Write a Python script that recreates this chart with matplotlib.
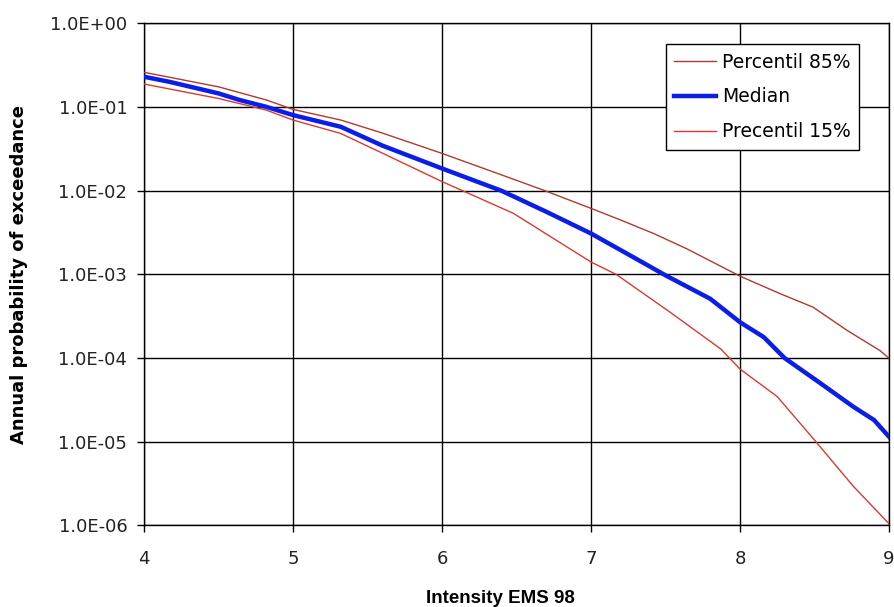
import matplotlib
matplotlib.use("Agg")
import matplotlib.pyplot as plt
from matplotlib.ticker import FuncFormatter, FixedLocator, NullLocator

plt.rcParams['font.family'] = ['DejaVu Sans']

# Intensity (EMS 98) and annual probability of exceedance for each curve
x_p85 = [4.0, 4.5, 4.82, 5.0, 5.32, 5.6, 6.0, 6.37, 6.68, 7.0, 7.2, 7.42,
         7.64, 8.0, 8.27, 8.49, 8.72, 8.94, 9.0]
p85 = [0.261, 0.175, 0.122, 0.0940, 0.0702, 0.0490, 0.0280, 0.0162, 0.0102,
       0.00617, 0.00447, 0.00309, 0.00204, 0.000955, 0.000589, 0.000407,
       0.000214, 0.000123, 0.000100]

x_med = [4.0, 4.17, 4.5, 4.64, 4.82, 5.0, 5.32, 5.6, 6.0, 6.4, 6.7, 7.0,
         7.25, 7.5, 7.8, 8.0, 8.16, 8.3, 8.54, 8.76, 8.9, 9.0]
median = [0.231, 0.201, 0.146, 0.122, 0.101, 0.0804, 0.0583, 0.0347, 0.0185,
          0.0100, 0.00562, 0.00309, 0.00174, 0.000977, 0.000513, 0.000269,
          0.000178, 0.000100, 5.01e-5, 2.63e-5, 1.82e-5, 1.15e-5]

x_p15 = [4.0, 4.5, 4.82, 5.0, 5.32, 5.6, 6.0, 6.14, 6.48, 7.0, 7.17, 7.53,
         7.87, 8.0, 8.25, 8.51, 8.76, 9.0]
p15 = [0.189, 0.127, 0.0923, 0.0702, 0.0485, 0.0282, 0.0129, 0.0100, 0.00537,
       0.00141, 0.00100, 0.000355, 0.000129, 7.41e-5, 3.47e-5, 1.0e-5,
       2.95e-6, 1.05e-6]

x_ticks = [4, 5, 6, 7, 8, 9]
y_ticks = [1e0, 1e-1, 1e-2, 1e-3, 1e-4, 1e-5, 1e-6]

fig = plt.figure(figsize=(8.95, 6.07), dpi=100)
ax = fig.add_axes([0.1609, 0.1343, 0.8324, 0.8270])

ax.plot(x_p85, p85, color='#b03a30', lw=1.0, label='Percentil 85%', zorder=3)
ax.plot(x_med, median, color='#0a1ee8', lw=3.2, label='Median', zorder=4)
ax.plot(x_p15, p15, color='#d83a32', lw=1.0, label='Precentil 15%', zorder=3)

ax.set_yscale('log')
ax.set_xlim(4, 9)
ax.set_ylim(1e-6, 1e0)
ax.xaxis.set_major_locator(FixedLocator(x_ticks))
ax.yaxis.set_major_locator(FixedLocator(y_ticks))
ax.yaxis.set_minor_locator(NullLocator())
ax.yaxis.set_major_formatter(FuncFormatter(lambda v, _: f"{v:.1E}"))
ax.xaxis.set_major_formatter(FuncFormatter(lambda v, _: f"{v:g}"))

ax.grid(True, color='black', lw=1.0, zorder=1)
for s in ax.spines.values():
    s.set_color('black')
    s.set_linewidth(1.0)
ax.tick_params(axis='both', direction='out', length=5, width=1.0,
               color='black', labelsize=13, labelcolor='#222222')
ax.tick_params(axis='y', pad=7)
ax.tick_params(axis='x', pad=13)

ax.set_xlabel('Intensity EMS 98', fontsize=13.5, fontweight='bold',
              family=['Liberation Sans', 'DejaVu Sans'])
ax.set_ylabel('Annual probability of exceedance', fontsize=13,
              fontweight='bold')
ax.xaxis.set_label_coords(0.478, -0.128)
ax.yaxis.set_label_coords(-0.156, 0.5)

leg = ax.legend(loc='upper left', bbox_to_anchor=(0.700, 0.959),
                borderaxespad=0, fontsize=13.5, handlelength=2.25,
                handletextpad=0.32, labelspacing=0.85, borderpad=0.45,
                frameon=True, fancybox=False, framealpha=1.0)
leg.get_frame().set_edgecolor('black')
leg.get_frame().set_linewidth(1.0)

fig.savefig('out.png', dpi=100, facecolor='white')
